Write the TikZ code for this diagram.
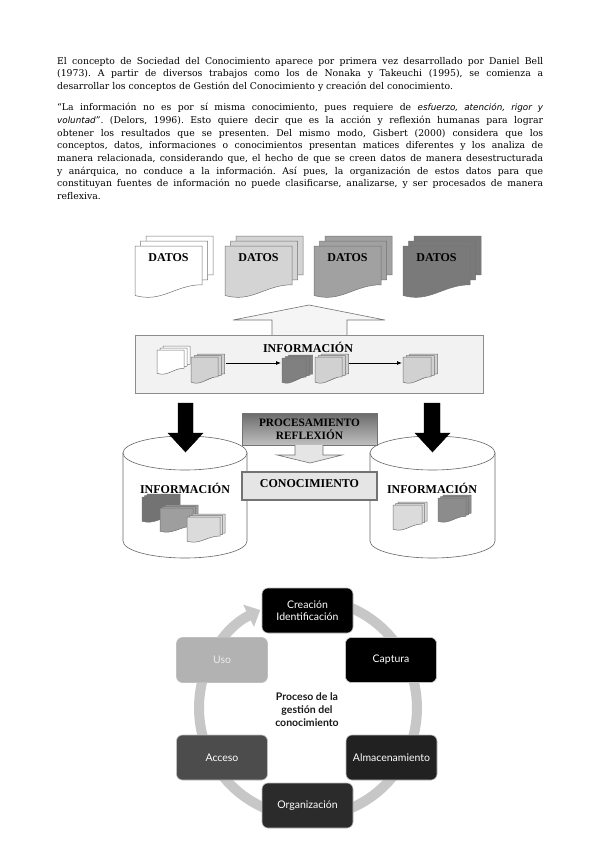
\documentclass[tikz,border=0pt]{standalone}
\usepackage{fontspec}
\setmainfont{DejaVu Serif}
\newfontfamily\hdfont{Liberation Serif}
\newfontfamily\gsfont{Lato}
\newfontfamily\itsans{DejaVu Sans}
\usetikzlibrary{arrows.meta}
\frenchspacing

\newcommand{\docpage}[5]{%
  \filldraw[fill=#5, draw=black!55, line width=0.5pt]
   (#1,#2) -- (#1+#3,#2) -- (#1+#3,#2+0.76*#4)
   .. controls (#1+0.6*#3,#2+0.76*#4) and (#1+0.4*#3,#2+1.12*#4) .. (#1,#2+0.97*#4) -- cycle;}
\newcommand{\docstack}[7]{%
  \docpage{#1+2*#6}{#2-2*#7}{#3}{#4}{#5}%
  \docpage{#1+#6}{#2-#7}{#3}{#4}{#5}%
  \docpage{#1}{#2}{#3}{#4}{#5}}

\tikzset{
  bodyline/.style={anchor=base west, inner sep=0pt, font=\fontsize{9.3}{12}\selectfont},
  hdtext/.style={font=\hdfont\bfseries\fontsize{12}{12}\selectfont, inner sep=0pt, align=center},
  cyclebox/.style={rounded corners=6pt, minimum width=91pt, minimum height=45pt, draw=black!25,
     line width=0.6pt, font=\gsfont\fontsize{10.5}{12.5}\selectfont, align=center, text=white, inner sep=2pt},
  flowarrow/.style={-{Latex[length=5pt,width=4pt]}, line width=0.8pt, black},
  hollowarrow/.style={fill=black!4, draw=black!55, line width=0.6pt},
  blackarrow/.style={fill=black, draw=black},
  cyl/.style={fill=white, draw=black!60, line width=0.6pt},
  ring/.style={draw=black!22, line width=10pt, -{Triangle[width=24pt,length=13pt]}}
}

\begin{document}
\begin{tikzpicture}[x=1pt,y=-1pt]
\useasboundingbox (0,0) rectangle (599,848);
\fill[white] (0,0) rectangle (599,848);

% ---------------- body text ----------------
\node[bodyline] (p1a) at (57,64.5) {\hbox to 486pt{El concepto de Sociedad del Conocimiento aparece por primera vez desarrollado por Daniel Bell}};
\node[bodyline] (p1b) at (57,77) {\hbox to 486pt{(1973). A partir de diversos trabajos como los de Nonaka y Takeuchi (1995), se comienza a}};
\node[bodyline] (p1c) at (57,89.5) {desarrollar los conceptos de Gestión del Conocimiento y creación del conocimiento.};

\node[bodyline] (p2a) at (57,111) {\hbox to 486pt{“La información no es por sí misma conocimiento, pues requiere de {\itsans\itshape\fontsize{8.8}{12}\selectfont esfuerzo, atención, rigor y}}};
\node[bodyline] (p2b) at (57,123.6) {\hbox to 486pt{{\itsans\itshape\fontsize{8.8}{12}\selectfont voluntad}”. (Delors, 1996). Esto quiere decir que es la acción y reflexión humanas para lograr}};
\node[bodyline] (p2c) at (57,136.2) {\hbox to 486pt{obtener los resultados que se presenten. Del mismo modo, Gisbert (2000) considera que los}};
\node[bodyline] (p2d) at (57,148.8) {\hbox to 486pt{conceptos, datos, informaciones o conocimientos presentan matices diferentes y los analiza de}};
\node[bodyline] (p2e) at (57,161.4) {\hbox to 486pt{manera relacionada, considerando que, el hecho de que se creen datos de manera desestructurada}};
\node[bodyline] (p2f) at (57,174) {\hbox to 486pt{y anárquica, no conduce a la información. Así pues, la organización de estos datos para que}};
\node[bodyline] (p2g) at (57,186.6) {\hbox to 486pt{constituyan fuentes de información no puede clasificarse, analizarse, y ser procesados de manera}};
\node[bodyline] (p2h) at (57,199.2) {reflexiva.};

% ---------------- DATOS stacks ----------------
\docstack{135}{246}{67}{51}{white}{5.5}{5}
\docstack{225}{246}{67}{51}{black!17}{5.5}{5}
\docstack{314}{246}{67}{51}{black!37}{5.5}{5}
\docstack{403}{246}{67}{51}{black!52}{5.5}{5}
\node[hdtext] (d1) at (168.5,258) {DATOS};
\node[hdtext] (d2) at (258.5,258) {DATOS};
\node[hdtext] (d3) at (347.5,258) {DATOS};
\node[hdtext] (d4) at (436.5,258) {DATOS};

% ---------------- big hollow up arrow ----------------
\filldraw[hollowarrow] (272,337) -- (272,320) -- (233,320) -- (309,305) -- (385,320) -- (347,320) -- (347,337);

% ---------------- INFORMACION box ----------------
\filldraw[fill=black!5, draw=black!45, line width=0.6pt] (135,335) rectangle (483,393);
\node[hdtext] (info) at (308,347) {INFORMACIÓN};
\docstack{157}{350}{27}{24}{white}{3}{2}
\docstack{191}{357}{27}{26}{black!18}{3.3}{1.5}
\docstack{282}{358}{24}{25}{black!50}{3.3}{1.5}
\docstack{315}{357}{27}{26}{black!18}{3.3}{1.5}
\docstack{403}{357}{28}{26}{black!18}{3.3}{1.5}
\coordinate (a1s) at (226,363);
\coordinate (a1e) at (281,363);
\coordinate (a2s) at (349,363);
\coordinate (a2e) at (402,363);
\draw[flowarrow] (a1s) -- (a1e);
\draw[flowarrow] (a2s) -- (a2e);

% ---------------- cylinders ----------------
\filldraw[cyl] (123,453) -- (123,541) arc[start angle=180, end angle=0, x radius=62, y radius=17] -- (247,453) -- cycle;
\draw[cyl] (185,453) ellipse [x radius=62, y radius=17];
\filldraw[cyl] (370,453) -- (370,541) arc[start angle=180, end angle=0, x radius=62.5, y radius=17] -- (495,453) -- cycle;
\draw[cyl] (432.5,453) ellipse [x radius=62.5, y radius=17];

% black arrows
\filldraw[blackarrow] (178,403) -- (193,403) -- (193,433) -- (203,433) -- (185.5,452) -- (168,433) -- (178,433) -- cycle;
\filldraw[blackarrow] (424,403) -- (440,403) -- (440,433) -- (450,433) -- (432.5,452) -- (415,433) -- (424,433) -- cycle;

\node[hdtext] (infL) at (185,488) {INFORMACIÓN};
\node[hdtext] (infR) at (432,488) {INFORMACIÓN};
\docstack{142}{497}{33}{25}{black!55}{2.5}{1.5}
\docstack{160}{508}{33}{24}{black!38}{2.5}{1.5}
\docstack{187}{517}{33}{25}{black!14}{2.5}{1.5}
\docstack{393}{505}{29}{25}{black!14}{2.5}{1.5}
\docstack{438}{498}{28}{24}{black!45}{2.5}{1.5}

% ---------------- processing ----------------
\shade[top color=black!58, bottom color=black!25] (242,413) rectangle (377,445);
\draw[black!55, line width=0.6pt] (242,413) rectangle (377,445);
\node[hdtext, font=\hdfont\bfseries\fontsize{11.3}{12.5}\selectfont] (proc) at (309.5,429.5) {PROCESAMIENTO\\REFLEXIÓN};
\filldraw[hollowarrow, fill=black!10] (295,445) -- (295,455) -- (277,455) -- (310,463) -- (342,455) -- (323,455) -- (323,445);
\filldraw[fill=black!10, draw=black!55, line width=1.2pt] (242,472) rectangle (377,500);
\node[hdtext] (conoc) at (309.5,484) {CONOCIMIENTO};

% ---------------- cycle ----------------
\draw[ring] (308,599) arc[start angle=-90, end angle=244, radius=109];
\node[cyclebox, fill=black] (crea) at (307.5,610.5) {Creación\\Identificación};
\node[cyclebox, fill=black] (capt) at (391,660) {Captura};
\node[cyclebox, fill=black!87] (alma) at (391.5,757.5) {Almacenamiento};
\node[cyclebox, fill=black!83] (orga) at (307.5,805.5) {Organización};
\node[cyclebox, fill=black!70] (acce) at (222,757.5) {Acceso};
\node[cyclebox, fill=black!30, text=black!8] (uso) at (222,660) {Uso};
\node[font=\gsfont\bfseries\fontsize{10.5}{13}\selectfont, align=center, text=black!90] (centro) at (307,710) {Proceso de la\\gestión del\\conocimiento};
\end{tikzpicture}
\end{document}
